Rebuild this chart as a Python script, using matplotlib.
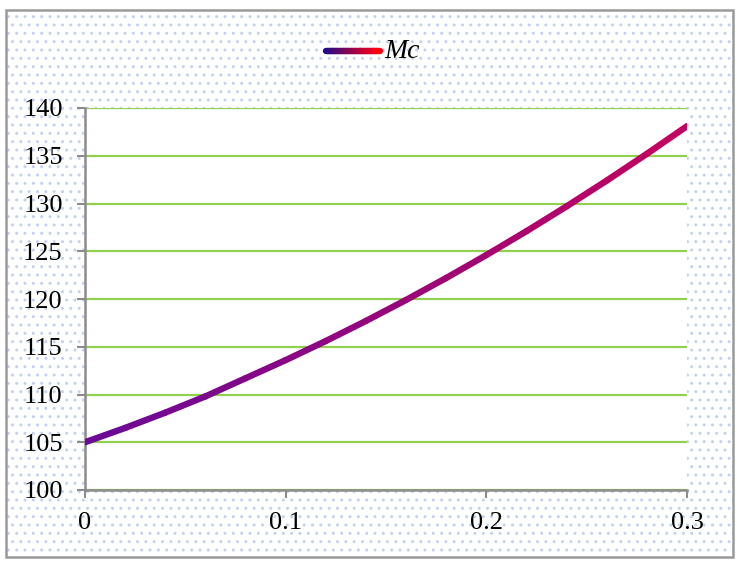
import numpy as np
import matplotlib
matplotlib.use("Agg")
import matplotlib.pyplot as plt
from matplotlib.collections import LineCollection
from matplotlib.colors import LinearSegmentedColormap
from matplotlib.patches import Rectangle

# data
x_vals = [0.00, 0.02, 0.04, 0.06, 0.08, 0.10, 0.12, 0.14,
          0.16, 0.18, 0.20, 0.22, 0.24, 0.26, 0.28, 0.30]
mc_vals = [105.0, 106.5, 108.1, 109.8, 111.7, 113.6, 115.6, 117.7,
           119.9, 122.2, 124.6, 127.1, 129.7, 132.4, 135.2, 138.1]
x_ticks = [0, 0.1, 0.2, 0.3]
x_tick_labels = ["0", "0.1", "0.2", "0.3"]
y_ticks = [100, 105, 110, 115, 120, 125, 130, 135, 140]
series_name = "Mc"

plt.rcParams['font.family'] = ['Liberation Serif', 'DejaVu Serif']
plt.rcParams['hatch.color'] = '#c2d3ee'

fig = plt.figure(figsize=(7.37, 5.61), dpi=100)

# dotted background with grey frame
bg = Rectangle((6/737, 1-557/561), 727/737, 547/561, transform=fig.transFigure,
               facecolor='white', edgecolor='#c2d3ee', linewidth=0,
               hatch='..', zorder=0)
fig.add_artist(bg)
frame = Rectangle((6/737, 1-557/561), 727/737, 547/561, transform=fig.transFigure,
                  facecolor='none', edgecolor='#9a9a9a', linewidth=1.8, zorder=1)
fig.add_artist(frame)

ax = fig.add_axes([85/737, 1-490/561, 602/737, 382/561])
ax.set_facecolor('white')
ax.set_zorder(2)

# gradient curve
pts = np.column_stack([x_vals, mc_vals]).reshape(-1, 1, 2)
segs = np.concatenate([pts[:-1], pts[1:]], axis=1)
cmap = LinearSegmentedColormap.from_list('mc', ['#6c0a96', '#c8005c'])
lc = LineCollection(segs, cmap=cmap, linewidth=4.6, capstyle='round', zorder=3)
lc.set_array(np.array(x_vals[:-1]))
lc.set_clim(0, 0.3)
ax.add_collection(lc)

ax.set_xlim(0, 0.3)
ax.set_ylim(100, 140)
ax.set_xticks(x_ticks)
ax.set_xticklabels(x_tick_labels)
ax.set_yticks(y_ticks)
ax.yaxis.grid(True, color='#92d050', linewidth=1.6)
ax.set_axisbelow(True)
for s in ['top', 'right']:
    ax.spines[s].set_visible(False)
for s in ['left', 'bottom']:
    ax.spines[s].set_color('#8c8c8c')
    ax.spines[s].set_linewidth(1.8)
ax.tick_params(direction='out', length=6, width=1.5, color='#8c8c8c',
               labelsize=19, pad=10)

# legend drawn by hand: gradient line + italic label
lx = np.linspace(326/737, 380/737, 30)
ly = np.full_like(lx, 1-51/561)
lpts = np.column_stack([lx, ly]).reshape(-1, 1, 2)
lsegs = np.concatenate([lpts[:-1], lpts[1:]], axis=1)
lcmap = LinearSegmentedColormap.from_list('leg', ['#200a8c', '#ff0010'])
leg = LineCollection(lsegs, cmap=lcmap, linewidth=4.6, capstyle='round',
                     transform=fig.transFigure, zorder=3)
leg.set_array(lx[:-1])
fig.add_artist(leg)
fig.text(384/737, 1-51/561, series_name, fontsize=20, style='italic',
         va='center', ha='left', zorder=3)

fig.savefig('out.png', dpi=100)
